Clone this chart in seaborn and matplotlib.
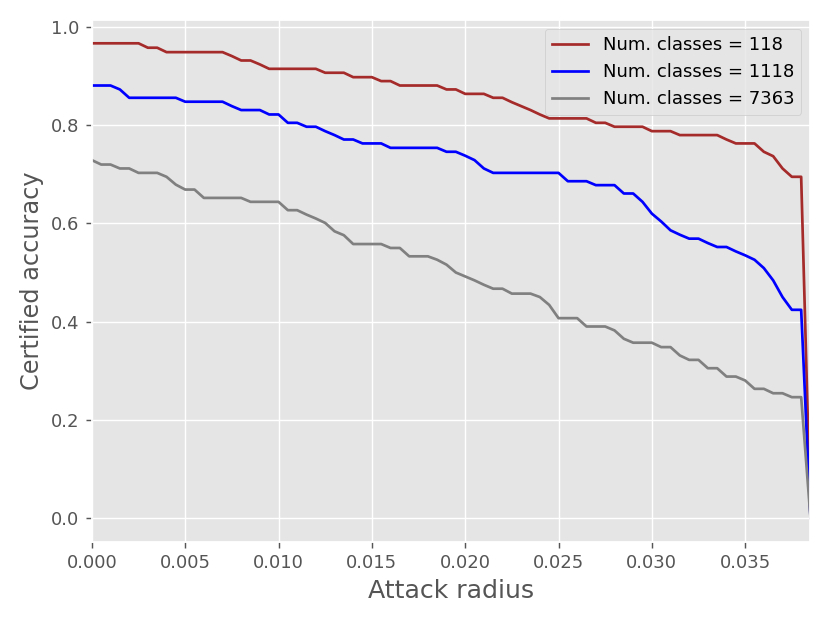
import numpy as np
import pandas as pd
import matplotlib
matplotlib.use("Agg")
import matplotlib.pyplot as plt
import seaborn as sns

# attack radius grid (step 0.0005)
radius = [round(0.0005 * i, 4) for i in range(78)]

acc_118 = [0.967] * 6 + [0.958] * 2 + [0.949] * 7 + [0.941] + [0.932] * 2 + [0.924] \
    + [0.915] * 6 + [0.907] * 3 + [0.898] * 3 + [0.890] * 2 + [0.881] * 5 + [0.873] * 2 \
    + [0.864] * 3 + [0.856] * 2 + [0.847, 0.839, 0.831, 0.822] + [0.814] * 5 + [0.805] * 2 \
    + [0.797] * 4 + [0.788] * 3 + [0.780] * 5 + [0.771] + [0.763] * 3 \
    + [0.746, 0.737, 0.712] + [0.695] * 2 + [0.0]

acc_1118 = [0.881] * 3 + [0.873] + [0.856] * 6 + [0.848] * 5 + [0.839] + [0.831] * 3 \
    + [0.822] * 2 + [0.805] * 2 + [0.797] * 2 + [0.788, 0.780] + [0.771] * 2 + [0.763] * 3 \
    + [0.754] * 6 + [0.746] * 2 + [0.738, 0.729, 0.712] + [0.703] * 8 + [0.686] * 3 \
    + [0.678] * 3 + [0.661] * 2 + [0.644, 0.620, 0.604, 0.586, 0.577] + [0.569] * 2 \
    + [0.560] + [0.552] * 2 + [0.543, 0.535, 0.526, 0.509, 0.484, 0.450] + [0.424] * 2 + [0.0]

acc_7363 = [0.729] + [0.720] * 2 + [0.712] * 2 + [0.703] * 3 + [0.695, 0.679] + [0.669] * 2 \
    + [0.652] * 5 + [0.644] * 4 + [0.627] * 2 + [0.618, 0.610, 0.601, 0.584, 0.576] \
    + [0.558] * 4 + [0.550] * 2 + [0.533] * 3 + [0.526, 0.516, 0.500, 0.492, 0.484, 0.475] \
    + [0.467] * 2 + [0.457] * 3 + [0.450, 0.434] + [0.407] * 3 + [0.390] * 3 \
    + [0.382, 0.365] + [0.357] * 3 + [0.348] * 2 + [0.331] + [0.322] * 2 + [0.305] * 2 \
    + [0.288] * 2 + [0.280] + [0.263] * 2 + [0.254] * 2 + [0.246] * 2 + [0.0]

labels = ["Num. classes = 118", "Num. classes = 1118", "Num. classes = 7363"]
colors = ["brown", "blue", "gray"]

plt.style.use("ggplot")
fig, ax = plt.subplots(figsize=(830 / 130, 623 / 130), dpi=130)

for acc, lab, col in zip([acc_118, acc_1118, acc_7363], labels, colors):
    df = pd.DataFrame({"radius": radius, "acc": acc})
    sns.lineplot(data=df, x="radius", y="acc", label=lab, color=col,
                 estimator=None, linewidth=1.5, ax=ax)

ax.set_xlim(0, radius[-1])
ax.set_xlabel("Attack radius", fontsize=14)
ax.set_ylabel("Certified accuracy", fontsize=13.3)
ax.legend(loc="upper right", fontsize=10)

fig.tight_layout()
fig.savefig("out.png", dpi=130)
